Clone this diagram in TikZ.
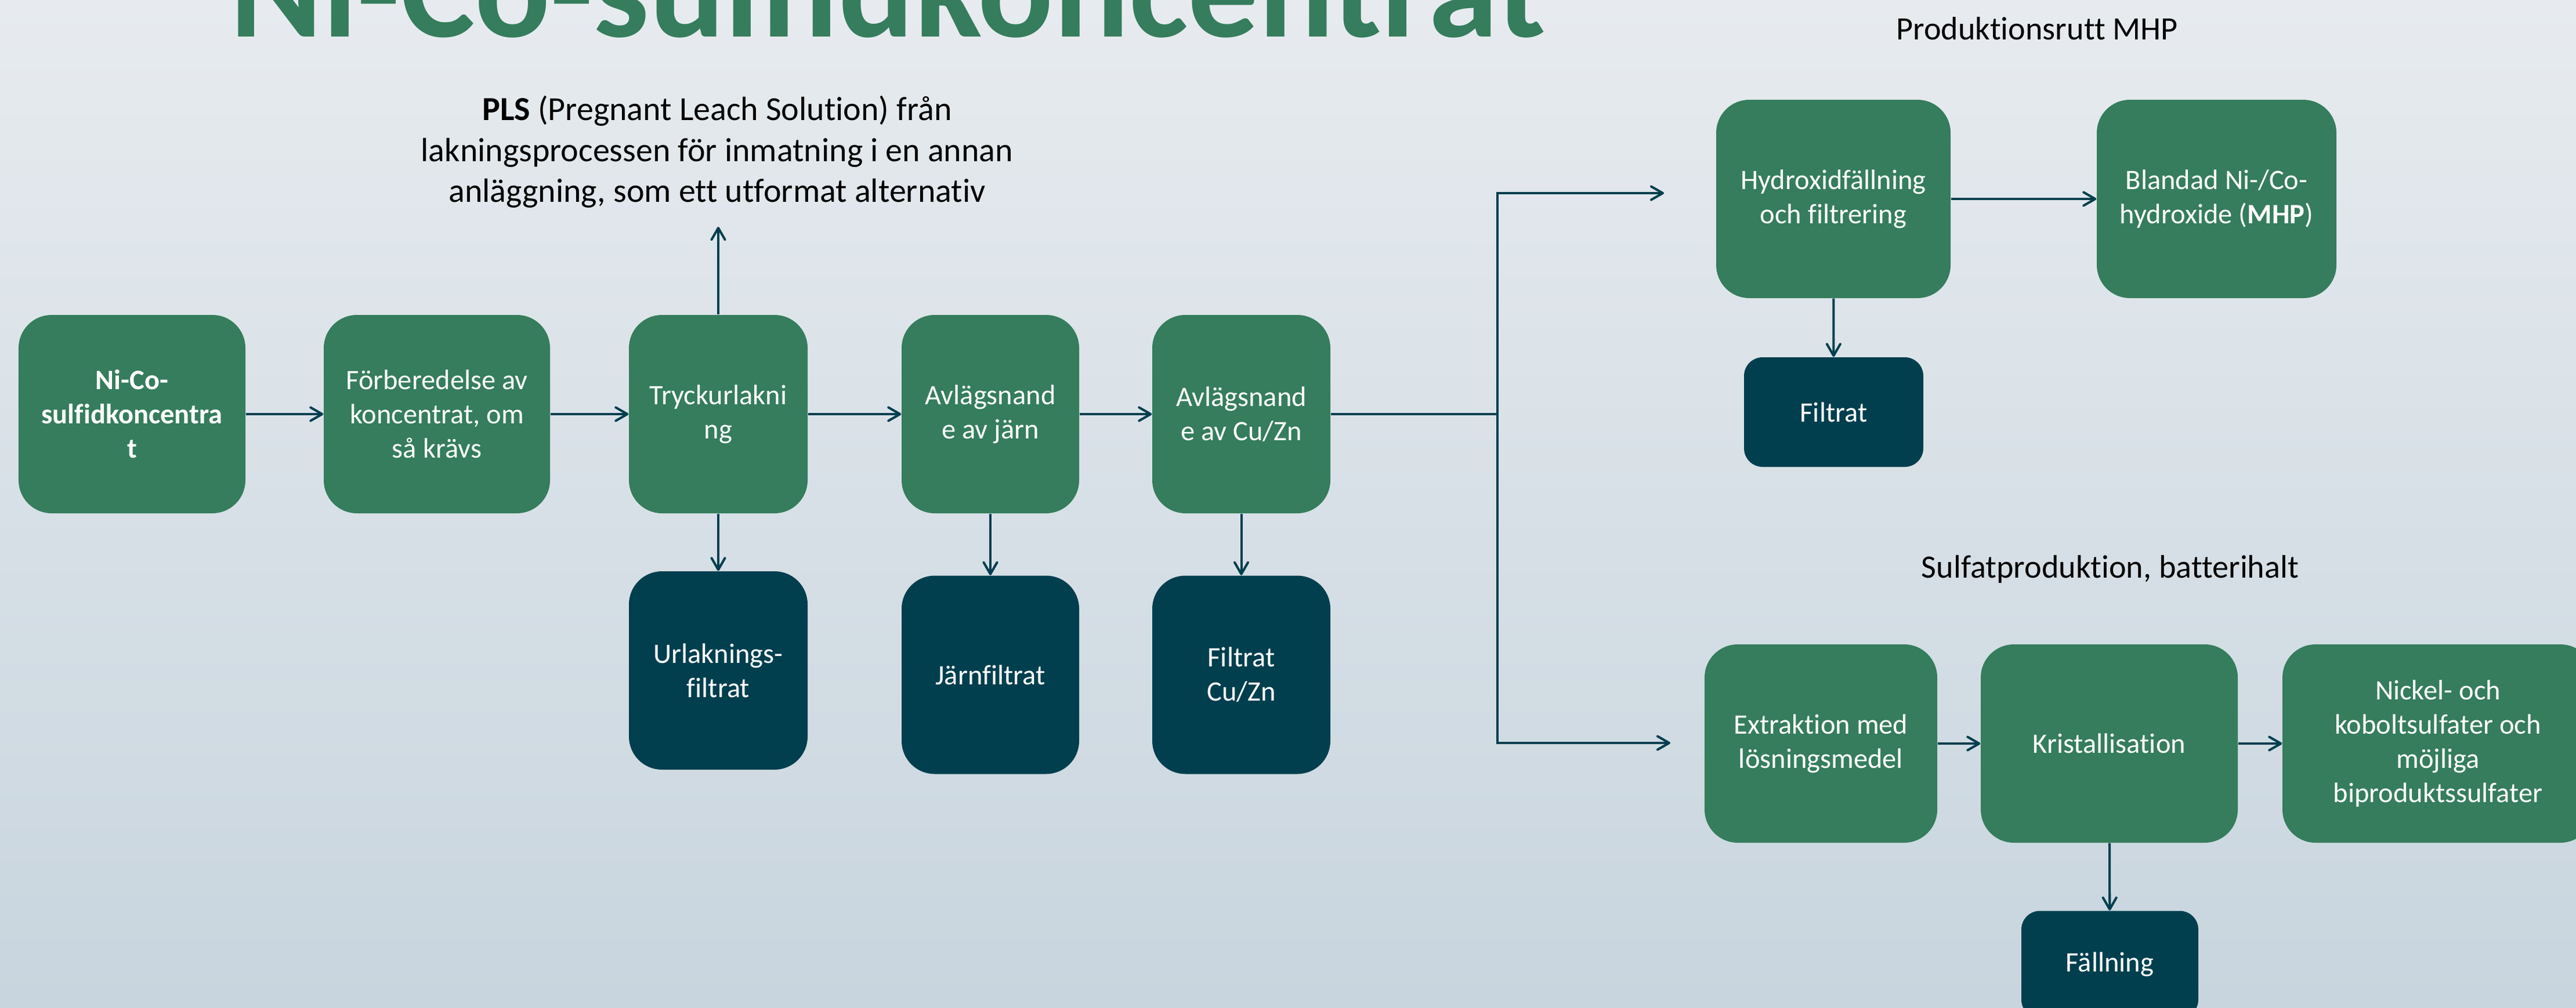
\documentclass[tikz,border=0pt]{standalone}
\usepackage{fontspec}
\setmainfont{Carlito}[Ligatures=NoCommon]
\usetikzlibrary{arrows.meta}
\definecolor{procgreen}{RGB}{53,125,92}
\definecolor{restteal}{RGB}{1,63,79}
\definecolor{linecol}{RGB}{1,63,79}
\definecolor{bgtop}{RGB}{231,235,239}
\definecolor{bgbot}{RGB}{200,213,222}
\newcommand\boxfont{\fontsize{13.8}{16.8}\selectfont}
\newcommand\notefont{\fontsize{16.5}{20.1}\selectfont}
\tikzset{
  procbox/.style={rectangle,fill=procgreen,text=white,align=center,font=\boxfont,
    inner sep=0pt,rounded corners=0.57cm,minimum height=3.42cm},
  restbox/.style={procbox,fill=restteal},
  smallbox/.style={restbox,rounded corners=0.32cm},
  ledning/.style={draw=linecol,line width=1.15pt},
  pil/.style={ledning,-{Straight Barb[length=2mm,width=2.3mm,round]}}
}

\begin{document}
\begin{tikzpicture}
\useasboundingbox(0,0)rectangle(44.4,-17.37);
\clip(0,0)rectangle(44.4,-17.37);
\shade[top color=bgtop,bottom color=bgbot](0,0)rectangle(44.4,-17.37);

\node[anchor=base,text=procgreen,font=\fontsize{69}{72}\selectfont\bfseries](titel)at(15.30,-0.63){Ni-Co-sulfidkoncentrat};
\node[align=center,font=\notefont](pls)at(12.36,-2.62){\textbf{PLS} (Pregnant Leach Solution) från\\lakningsprocessen för inmatning i en annan\\anläggning, som ett utformat alternativ};
\node[anchor=base,font=\fontsize{16}{19}\selectfont](rubmhp)at(35.11,-0.68){Produktionsrutt MHP};
\node[anchor=base,font=\fontsize{16}{19}\selectfont](rubsulf)at(36.37,-9.96){Sulfatproduktion, batterihalt};

\node[procbox,minimum width=3.91cm,font=\boxfont\bfseries](nico)at(2.275,-7.14){Ni-Co-\\sulfidkoncentra\\t};
\node[procbox,minimum width=3.90cm](forb)at(7.53,-7.14){Förberedelse av\\koncentrat, om\\så krävs};
\node[procbox,minimum width=3.08cm](tryck)at(12.38,-7.14){Tryckurlakni\\ng};
\node[procbox,minimum width=3.06cm](jarn)at(17.07,-7.14){Avlägsnand\\e av järn};
\node[procbox,minimum width=3.07cm](cuzn)at(21.395,-7.14){Avlägsnand\\e av Cu/Zn};
\node[restbox,minimum width=3.08cm](urlak)at(12.38,-11.56){Urlaknings-\\filtrat};
\node[restbox,minimum width=3.06cm](jarnfilt)at(17.07,-11.635){Järnfiltrat};
\node[restbox,minimum width=3.07cm](cuznfilt)at(21.395,-11.635){Filtrat\\Cu/Zn};

\node[procbox,minimum width=4.04cm](hydrox)at(31.60,-3.43){Hydroxidfällning\\och filtrering};
\node[procbox,minimum width=4.13cm](mhp)at(38.205,-3.43){Blandad Ni-/Co-\\hydroxide (\textbf{MHP})};
\node[smallbox,minimum width=3.09cm,minimum height=1.89cm](mhpfilt)at(31.605,-7.105){Filtrat};

\node[procbox,minimum width=4.01cm](extr)at(31.385,-12.82){Extraktion med\\lösningsmedel};
\node[procbox,minimum width=4.43cm](krist)at(36.355,-12.82){Kristallisation};
\node[procbox,minimum width=5.36cm](sulfat)at(42.02,-12.82){Nickel- och\\koboltsulfater och\\möjliga\\biproduktssulfater};
\node[smallbox,minimum width=3.05cm,minimum height=1.85cm](fall)at(36.365,-16.63){Fällning};

\coordinate(plsend)at(12.38,-3.91);
\coordinate(split)at(25.81,-7.14);
\coordinate(mhpend)at(28.68,-3.33);
\coordinate(sulfend)at(28.79,-12.81);

\draw[pil](nico)--(forb);
\draw[pil](forb)--(tryck);
\draw[pil](tryck)--(jarn);
\draw[pil](jarn)--(cuzn);
\draw[pil](tryck)--(plsend);
\draw[pil](tryck)--(urlak);
\draw[pil](jarn)--(jarnfilt);
\draw[pil](cuzn)--(cuznfilt);
\draw[ledning](cuzn)--(split);
\draw[pil](split)|-(mhpend);
\draw[pil](split)|-(sulfend);
\draw[pil](hydrox)--(mhp);
\draw[pil](hydrox)--(mhpfilt);
\draw[pil](extr)--(krist);
\draw[pil](krist)--(sulfat);
\draw[pil](krist)--(fall);
\end{tikzpicture}
\end{document}
